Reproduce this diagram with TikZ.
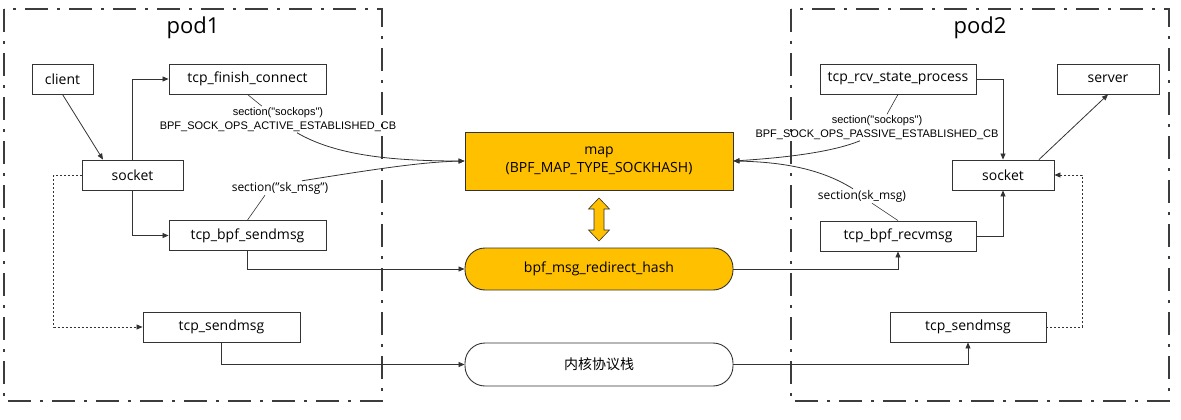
\documentclass[tikz,border=0pt]{standalone}
\usepackage{fontspec}
\setmainfont{Open Sans}
\newfontfamily\labelfont{Liberation Sans}
\newfontfamily\cjk{Noto Sans CJK SC}
\usetikzlibrary{arrows.meta}

\begin{document}
\begin{tikzpicture}[x=1pt,y=-1pt,
  mybox/.style={draw=linegray,line width=0.9pt,fill=white,minimum height=30pt,inner sep=0pt,font=\fontsize{14}{18}\selectfont},
  mylabel/.style={inner sep=1pt,align=center,font=\labelfont\fontsize{11}{14}\selectfont},
  msglabel/.style={inner sep=1pt,font=\fontsize{12}{14}\selectfont},
  myline/.style={draw=linegray,line width=0.8pt,-{Triangle[length=6pt,width=5pt]}},
  tether/.style={draw=linegray,line width=0.6pt},
  dotline/.style={myline,dash pattern=on 2pt off 2pt},
  podline/.style={draw=podgray,line width=2pt,dash pattern=on 23pt off 9pt on 3pt off 9pt}]
\definecolor{linegray}{HTML}{333333}
\definecolor{podgray}{HTML}{3C3C3C}
\definecolor{bpforange}{HTML}{FFC000}
\useasboundingbox (0,0) rectangle (1181,420);
  \foreach \px/\pname in {4/pod1,791/pod2}
  {  \draw[podline] (\px,9) rectangle ++(378,392);
     \node[font=\fontsize{22}{26}\selectfont] (\pname) at (\px+189,28) {\pname};}
% pod1
\node[mybox,minimum width=61pt] (client) at (62.5,79) {client};
\node[mybox,minimum width=157pt] (tfc) at (247.5,79) {tcp\_finish\_connect};
\node[mybox,minimum width=101pt] (sock1) at (132.5,175) {socket};
\node[mybox,minimum width=157pt] (tbs) at (247.5,235.5) {tcp\_bpf\_sendmsg};
\node[mybox,minimum width=157pt] (tsm1) at (221.5,327) {tcp\_sendmsg};
% middle
\node[mybox,fill=bpforange,minimum width=268pt,minimum height=58pt,align=center] (map) at (599,161) {map\\(BPF\_MAP\_TYPE\_SOCKHASH)};
\node[mybox,fill=bpforange,rounded corners=20pt,minimum width=268pt,minimum height=42pt] (hash) at (599,269) {bpf\_msg\_redirect\_hash};
\node[mybox,rounded corners=20pt,minimum width=268pt,minimum height=43pt,font=\cjk\fontsize{14}{18}\selectfont] (kern) at (599,364.5) {内核协议栈};
\draw[draw=linegray,fill=bpforange,line width=0.6pt] (599,198) -- (609.5,209) -- (604,209) -- (604,230) -- (609.5,230) -- (599,241) -- (588.5,230) -- (594,230) -- (594,209) -- (588.5,209) -- cycle;
% pod2
\node[mybox,minimum width=156pt] (trsp) at (898,79) {tcp\_rcv\_state\_process};
\node[mybox,minimum width=102pt] (server) at (1108,79) {server};
\node[mybox,minimum width=102pt] (sock2) at (1003,175) {socket};
\node[mybox,minimum width=156pt] (tbr) at (898,236) {tcp\_bpf\_recvmsg};
\node[mybox,minimum width=156pt] (tsm2) at (968,327) {tcp\_sendmsg};
% labels
\node[mylabel] (lblA) at (278,119.5) {section("sockops")\\BPF\_SOCK\_OPS\_ACTIVE\_ESTABLISHED\_CB};
\node[msglabel] (lblB) at (280,188) {section("sk\_msg")};
\node[mylabel] (lblC) at (877,127.5) {section("sockops")\\BPF\_SOCK\_OPS\_PASSIVE\_ESTABLISHED\_CB};
\node[msglabel] (lblD) at (862,196) {section(sk\_msg)};
% pod1 edges
\draw[myline] (client.south) -- ([xshift=-29.5pt]sock1.north);
\draw[myline] (sock1.north) |- (tfc.west);
\draw[myline] (sock1.south) |- (tbs.west);
\draw[dotline] (sock1.west) -- ++(-28,0) |- (tsm1.west);
\draw[myline] (tbs.south) |- (hash.west);
\draw[myline] (tsm1.south) |- (kern.west);
\draw[tether] (tfc.south) -- ([xshift=-16pt]lblA.north);
\draw[myline] ([xshift=19pt]lblA.south) .. controls (335,155) and (390,161) .. (map.west);
\draw[tether] (tbs.north) -- ([xshift=-15pt]lblB.south);
\draw[myline] ([xshift=22pt]lblB.north) .. controls (370,170) and (420,162) .. (map.west);
% pod2 edges
\draw[myline] (hash.east) -| (tbr.south);
\draw[myline] (kern.east) -| (tsm2.south);
\draw[myline] (tbr.east) -| (sock2.south);
\draw[myline] (trsp.east) -| (sock2.north);
\draw[myline] ([xshift=36pt]sock2.north) -- (server.south);
\draw[dotline] (tsm2.east) -- ++(36,0) |- (sock2.east);
\draw[tether] (trsp.south) -- ([xshift=10pt]lblC.north);
\draw[myline] ([xshift=-17pt]lblC.south) .. controls (830,153) and (780,158) .. (map.east);
\draw[tether] (tbr.north) -- ([xshift=10pt]lblD.south);
\draw[myline] ([xshift=-9pt]lblD.north) .. controls (820,168) and (780,162) .. (map.east);
\end{tikzpicture}
\end{document}
